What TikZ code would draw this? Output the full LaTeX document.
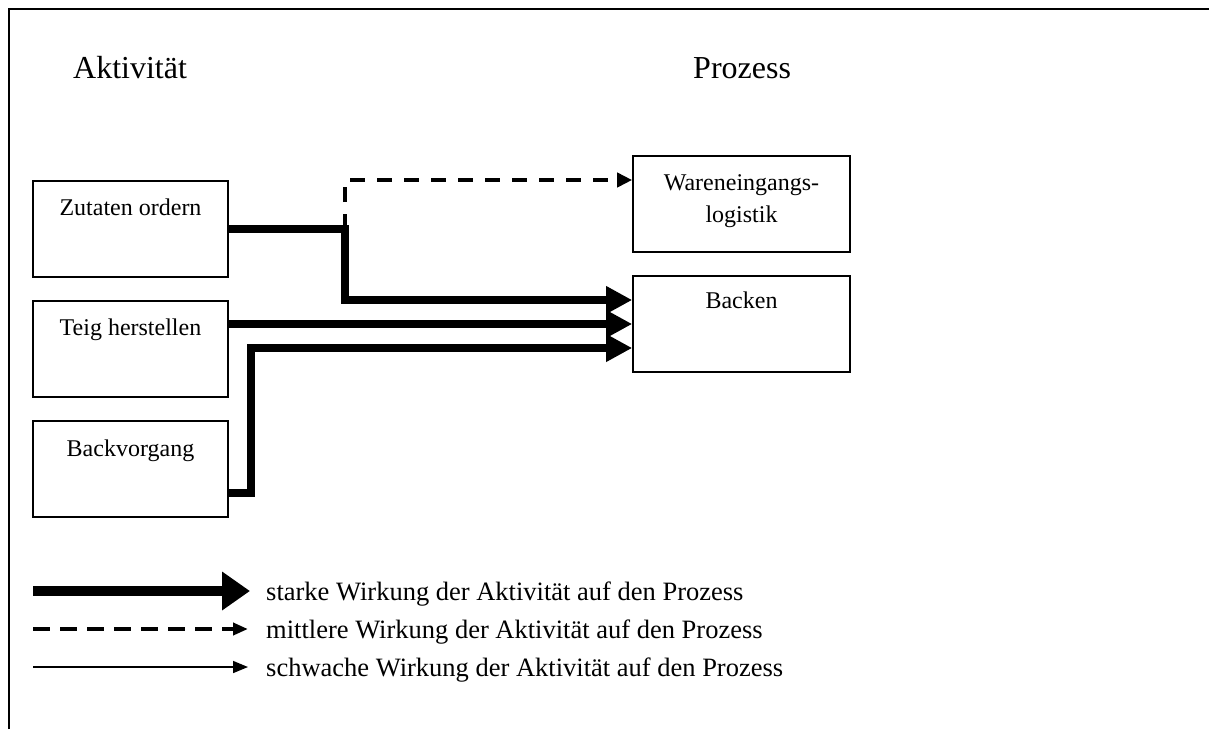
\documentclass[tikz,border=0pt]{standalone}
\usepackage{fontspec}
\setmainfont{Liberation Serif}
\usetikzlibrary{arrows.meta,calc}
\begin{document}
\begin{tikzpicture}[x=1pt,y=-1pt,
  box/.style={draw, line width=1.6pt, minimum width=#1, minimum height=96pt,
    inner sep=0pt, text height=34pt, text depth=62pt,
    font=\fontsize{24}{30}\selectfont},
  heading/.style={anchor=base west, inner sep=0pt, font=\fontsize{32}{38}\selectfont},
  legendtext/.style={anchor=base west, inner sep=0pt, font=\fontsize{26.5}{32}\selectfont},
  strong/.style={line width=8pt, line join=miter, -{Triangle[length=26pt,width=26pt]}},
  medium/.style={line width=4pt, dash pattern=on 15pt off 12pt, -{Triangle[length=15pt,width=14pt]}},
  weak/.style={line width=1.6pt, -{Triangle[length=15pt,width=12pt]}}
]
\useasboundingbox (0,0) rectangle (1209,729);

% frame
\draw[line width=2pt] (9,729) -- (9,8.5) -- (1209,8.5);

% column headings
\node[heading] (hakt) at (73,78) {Aktivität};
\node[heading] (hproz) at (693,78) {Prozess};

% activities
\node[box=195pt] (zut) at (130.5,229) {Zutaten ordern};
\node[box=195pt] (teig) at (130.5,349) {Teig herstellen};
\node[box=195pt, text height=35pt, text depth=61pt] (bvg) at (130.5,469) {Backvorgang};

% processes
\node[box=217pt, text height=34pt, text depth=62pt] (wel) at (741.5,204)
  {\begin{tabular}[t]{@{}c@{}}Wareneingangs-\\[2pt]logistik\end{tabular}};
\node[box=217pt, text height=32pt, text depth=64pt] (bak) at (741.5,324) {Backen};

% connectors
\coordinate (split) at (345,229);
\draw[medium] (split) |- ($(wel.west)+(0,-24)$);
\draw[strong] (zut.east) -- (split) |- ($(bak.west)+(0,-24)$);
\draw[strong] (teig.east |- bak.west) -- (bak.west);
\draw[strong] ($(bvg.east)+(0,24)$) -- ++(22,0) |- ($(bak.west)+(0,24)$);

% legend
\node[legendtext] (lstrong) at (266,600) {starke Wirkung der Aktivität auf den Prozess};
\node[legendtext] (lmedium) at (266,638) {mittlere Wirkung der Aktivität auf den Prozess};
\node[legendtext] (lweak) at (266,676) {schwache Wirkung der Aktivität auf den Prozess};
\coordinate (sstrong) at (33,591);
\coordinate (smedium) at (33,629);
\coordinate (sweak) at (33,667);
\draw[line width=10pt, -{Triangle[length=28pt,width=37pt]}] (sstrong) -- (sstrong -| 250,0);
\draw[line width=4pt, dash pattern=on 17pt off 10pt, -{Triangle[length=15pt,width=12pt]}] (smedium) -- (smedium -| 248,0);
\draw[weak] (sweak) -- (sweak -| 248,0);
\end{tikzpicture}
\end{document}
